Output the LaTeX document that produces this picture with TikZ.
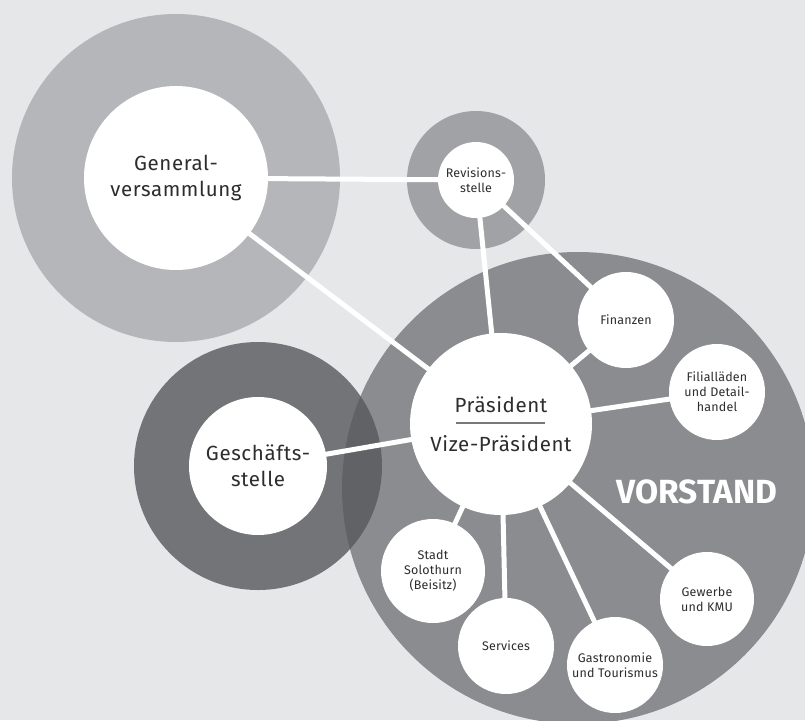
\documentclass[tikz,border=0pt]{standalone}
\usepackage{fontspec}
\setmainfont{Fira Sans}
\newfontfamily\bigf[LetterSpace=3]{Fira Sans}
\newfontfamily\smallf[LetterSpace=1.5]{Fira Sans}
\definecolor{bgc}{RGB}{230,231,233}
\definecolor{genc}{RGB}{181,182,185}
\definecolor{revc}{RGB}{161,162,165}
\definecolor{vorc}{RGB}{139,140,144}
\definecolor{gesc}{RGB}{87,88,92}
\definecolor{txtc}{RGB}{45,45,45}
\definecolor{rulec}{RGB}{120,120,122}
\pgfdeclarelayer{bglayer}
\pgfdeclarelayer{linelayer}
\pgfsetlayers{bglayer,linelayer,main}
\begin{document}
\begin{tikzpicture}[x=1pt,y=-1pt,
  wc/.style={circle,fill=white,inner sep=0pt,align=center,text=txtc},
  bigtxt/.style={font=\bigf\fontsize{20.5}{26}\selectfont},
  smalltxt/.style={font=\smallf\fontsize{12.5}{15}\selectfont},
  conn/.style={draw=white,line width=5pt}]
\useasboundingbox (0,0) rectangle (805,720);
\clip (0,0) rectangle (805,720);
% nodes
\node[wc,bigtxt,minimum size=184pt] (gen) at (176,178) {General-\\versammlung};
\node[wc,smalltxt,minimum size=76pt] (rev) at (476,180) {Revisions-\\stelle};
\node[wc,bigtxt,minimum size=138pt] (ges) at (258,466) {Geschäfts-\\stelle};
\node[wc,minimum size=182pt] (pres) at (501,424) {};
\node[anchor=base,text=txtc,bigtxt] (prestxt) at (501,412) {Präsident};
\node[anchor=base,text=txtc,bigtxt] (vizetxt) at (501,451) {Vize-Präsident};
\draw[rulec,line width=1.4pt] ([xshift=-45pt,yshift=1pt]pres.center) -- ([xshift=44pt,yshift=1pt]pres.center);
\node[wc,smalltxt,minimum size=96pt] (fin) at (626,320) {Finanzen};
\node[wc,smalltxt,minimum size=96pt] (fil) at (717,392) {Filialläden\\und Detail-\\handel};
\node[wc,smalltxt,minimum size=104pt] (sta) at (433,571) {Stadt\\Solothurn\\(Beisitz)};
\node[wc,smalltxt,minimum size=96pt] (ser) at (506,646) {Services};
\node[wc,smalltxt,minimum size=96pt] (gas) at (615,665) {Gastronomie\\und Tourismus};
\node[wc,smalltxt,minimum size=94pt] (gew) at (707,599) {Gewerbe\\und KMU};
\node[text=white,font=\bfseries\fontsize{33.5}{33.5}\selectfont] (vor) at (697,492) {VORSTAND};
% background circles
\begin{pgfonlayer}{bglayer}
\fill[bgc] (0,0) rectangle (805,720);
\fill[genc] (gen.center) circle (164);
\fill[revc] (rev.center) circle (69);
\fill[vorc] (578,488) circle (236);
\fill[gesc,opacity=0.8] (ges.center) circle (124);
\end{pgfonlayer}
% connectors
\begin{pgfonlayer}{linelayer}
\draw[conn] (gen.center) -- (rev.center);
\draw[conn] (gen.center) -- (pres.center);
\draw[conn] (rev.center) -- (pres.center);
\draw[conn] (rev.center) -- (fin.center);
\draw[conn] (fin.center) -- (pres.center);
\draw[conn] (fil.center) -- (pres.center);
\draw[conn] (ges.center) -- (pres.center);
\draw[conn] (sta.center) -- (pres.center);
\draw[conn] (ser.center) -- (pres.center);
\draw[conn] (gas.center) -- (pres.center);
\draw[conn] (gew.center) -- (pres.center);
\end{pgfonlayer}
\end{tikzpicture}
\end{document}
